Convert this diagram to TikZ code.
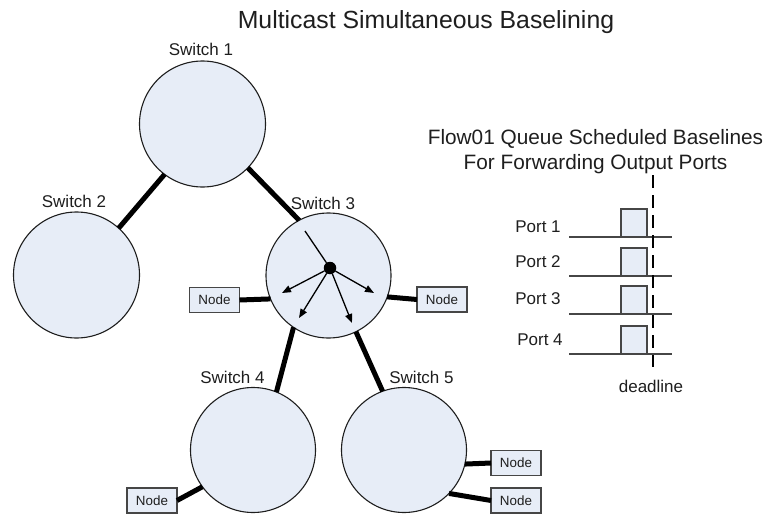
\documentclass[tikz,border=0pt]{standalone}
\usepackage{fontspec}
\setmainfont{Liberation Sans}
\usetikzlibrary{arrows.meta}
\definecolor{swfill}{RGB}{231,237,247}
\definecolor{ink}{RGB}{30,30,30}
\definecolor{rim}{RGB}{70,70,70}

\begin{document}
\begin{tikzpicture}[x=1pt,y=-1pt,
  switch/.style={circle,draw=ink,line width=1.1pt,fill=swfill,minimum size=126pt,inner sep=0pt,outer sep=0pt},
  hostbox/.style={draw=rim,line width=1.4pt,fill=swfill,minimum width=50pt,minimum height=25pt,inner sep=0pt,outer sep=0pt,text=ink,font=\fontsize{13.4}{15}\selectfont},
  qbox/.style={draw=rim,line width=1.5pt,fill=swfill,minimum width=26pt,minimum height=28pt,inner sep=0pt,outer sep=0pt},
  link/.style={line width=5pt,draw=black},
  spoke/.style={line width=1.3pt,draw=black,-{Triangle[length=9pt,width=7pt]}},
  lbl/.style={font=\fontsize{17}{20}\selectfont,anchor=base,text=ink,inner sep=0pt},
  head/.style={font=\fontsize{20.8}{24}\selectfont,anchor=base,text=ink,inner sep=0pt},
  portline/.style={line width=1.5pt,draw=rim},
]
\useasboundingbox (0,0) rectangle (766,514);

% title
\node[font=\fontsize{24.8}{28}\selectfont,anchor=base,text=ink,inner sep=0pt] (title) at (426,28) {Multicast Simultaneous Baselining};

% switches
\node[switch] (s1) at (202.5,124) {};
\node[switch] (s2) at (76.5,275) {};
\node[switch,minimum size=125pt] (s3) at (328.5,275.5) {};
\node[switch,minimum size=125pt] (s4) at (253,450) {};
\node[switch,minimum size=125pt] (s5) at (404,450) {};

\node[lbl] (l1) at (201,55) {Switch 1};
\node[lbl] (l2) at (74,207) {Switch 2};
\node[lbl] (l3) at (323,209) {Switch 3};
\node[lbl] (l4) at (232.5,383) {Switch 4};
\node[lbl] (l5) at (421.5,383) {Switch 5};

% end hosts
\node[hostbox] (n3l) at (214.5,300) {Node};
\node[hostbox] (n3r) at (442,299.5) {Node};
\node[hostbox] (n4) at (152,500.5) {Node};
\node[hostbox] (n5a) at (516,463) {Node};
\node[hostbox] (n5b) at (516,500.5) {Node};

% inter-switch links
\draw[link] (s1.-127) -- (s2.48);
\draw[link] (s1.-44) -- (s3.118);
\draw[link] (s3.-124) -- (s4.68);
\draw[link] (s3.-64) -- (s5.110);

% host links
\draw[link] (s3.-158) -- (n3l.east);
\draw[link] (s3.-20) -- (n3r.west);
\draw[link] (s4.-144) -- (n4.east);
\draw[link] (s5.-13) -- (n5a.west);
\draw[link] (s5.-44) -- (n5b.west);

% multicast fan-out inside switch 3
\node[circle,fill=black,minimum size=12.5pt,inner sep=0pt,outer sep=0pt] (hub) at (330,268) {};
\coordinate (inp) at (305,231);
\coordinate (o1) at (282,293);
\coordinate (o2) at (299,318);
\coordinate (o3) at (352,323);
\coordinate (o4) at (374,293);
\draw[line width=1.3pt] (inp) -- (hub);
\draw[spoke] (hub) -- (o1);
\draw[spoke] (hub) -- (o2);
\draw[spoke] (hub) -- (o3);
\draw[spoke] (hub) -- (o4);

% queue schedule panel
\node[head] (h1) at (595.5,144) {Flow01 Queue Scheduled Baselines};
\node[head] (h2) at (595.5,169) {For Forwarding Output Ports};

\node[lbl] (p1) at (538,232) {Port 1};
\node[lbl] (p2) at (538,267) {Port 2};
\node[lbl] (p3) at (538,304) {Port 3};
\node[lbl] (p4) at (540,345) {Port 4};

\node[qbox] (q1) at (634,223) {};
\node[qbox] (q2) at (634,262) {};
\node[qbox] (q3) at (634,300) {};
\node[qbox] (q4) at (634,340) {};

\draw[portline] (569,237) -- (672,237);
\draw[portline] (569,276) -- (672,276);
\draw[portline] (569,314) -- (672,314);
\draw[portline] (569,354) -- (672,354);

\draw[line width=2pt,draw=black,dash pattern=on 13pt off 7pt] (653,175) -- (653,367);
\node[lbl] (dl) at (651,392) {deadline};
\end{tikzpicture}
\end{document}
